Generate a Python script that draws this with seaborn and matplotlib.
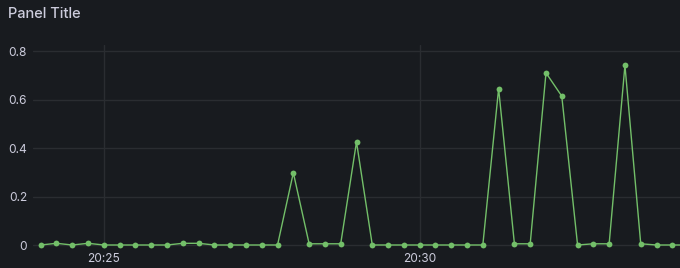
import matplotlib
matplotlib.use("Agg")
import matplotlib.pyplot as plt
import matplotlib.dates as mdates
import seaborn as sns
import pandas as pd
import numpy as np

# ---- data ----
start_time = "2024-01-01 20:24:00"
interval_seconds = 15
values = [0, 0.007, 0, 0.007, 0, 0, 0, 0, 0, 0.007,
          0.007, 0, 0, 0, 0, 0, 0.298, 0.005, 0.005, 0.005,
          0.425, 0, 0, 0, 0, 0, 0, 0, 0, 0.645,
          0.005, 0.005, 0.71, 0.614, 0, 0.005, 0.005, 0.741, 0.005, 0,
          0, 0]
y_ticks = [0, 0.2, 0.4, 0.6, 0.8]
y_tick_labels = ["0", "0.2", "0.4", "0.6", "0.8"]
x_tick_times = ["2024-01-01 20:25:00", "2024-01-01 20:30:00"]
title = "Panel Title"

times = pd.date_range(start_time, periods=len(values), freq=f"{interval_seconds}s")
df = pd.DataFrame({"time": times, "value": values})

BG = "#181b1f"
GRID = "#2a2d31"
TEXT = "#ccccdc"
LINE = "#73bf69"

sns.set_theme(style="dark")
plt.rcParams["font.family"] = ["Inter", "DejaVu Sans"]

W, H = 680, 268
fig = plt.figure(figsize=(W / 100, H / 100), dpi=100, facecolor=BG)
ax = fig.add_axes([33 / W, 1 - 249 / H, 1 - 33 / W, (249 - 45) / H], facecolor=BG)

sns.lineplot(data=df, x="time", y="value", ax=ax, color=LINE, linewidth=1.0,
             marker="o", markersize=4.2, markeredgewidth=0, clip_on=True)

t0 = pd.Timestamp(start_time)
ax.set_xlim(t0 - pd.Timedelta(seconds=7.3), t0 + pd.Timedelta(seconds=607.3))
ax.set_ylim(-0.0165, 0.825)

ax.set_yticks(y_ticks)
ax.set_yticklabels(y_tick_labels)
ax.set_xticks([pd.Timestamp(t) for t in x_tick_times])
ax.xaxis.set_major_formatter(mdates.DateFormatter("%H:%M"))

ax.grid(True, color=GRID, linewidth=1.0)
ax.set_axisbelow(True)
for s in ax.spines.values():
    s.set_visible(False)
ax.tick_params(axis="both", length=0, labelsize=8.6, colors=TEXT)
ax.tick_params(axis="y", pad=4.3)
ax.tick_params(axis="x", pad=3.0)
ax.set_xlabel("")
ax.set_ylabel("")

fig.text(8 / W, 1 - 14 / H, title, color=TEXT, fontsize=10.5, fontweight="medium",
         ha="left", va="center")

fig.savefig("out.png", dpi=100, facecolor=BG)
